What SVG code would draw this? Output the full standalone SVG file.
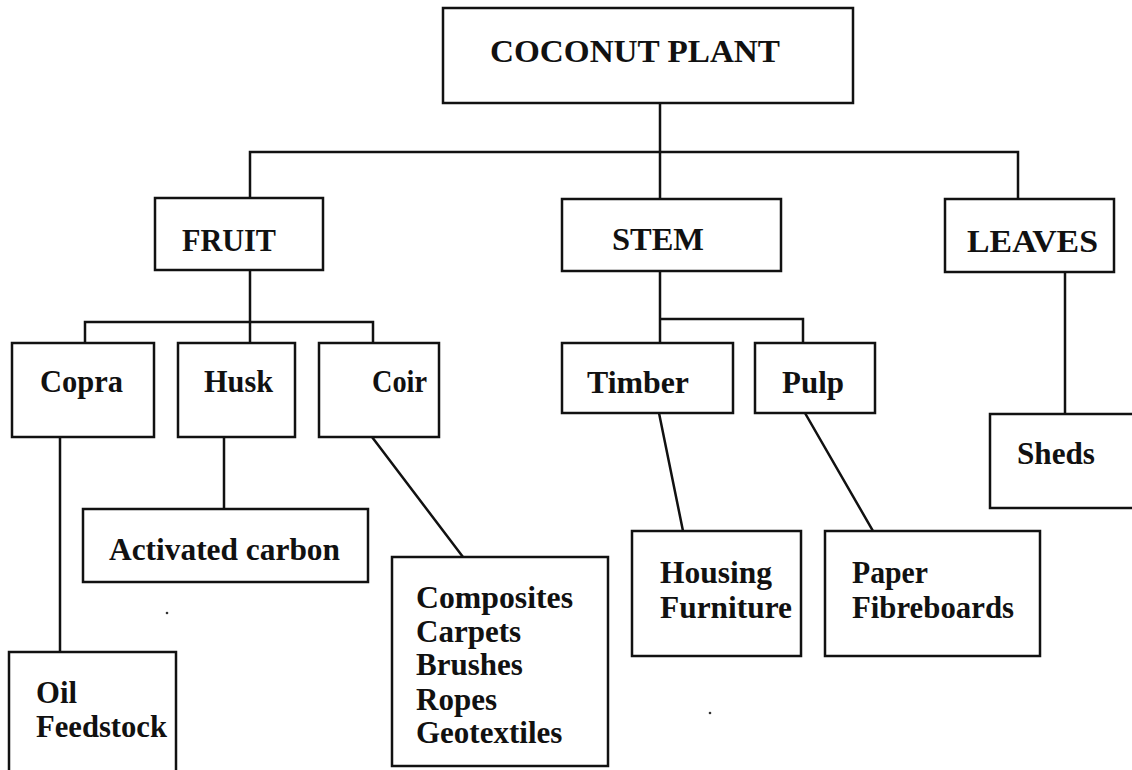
<svg xmlns="http://www.w3.org/2000/svg" width="1132" height="770" viewBox="0 0 1132 770">
<style>
  .box{fill:#fff;stroke:#111;stroke-width:2.5}
  .ln{fill:none;stroke:#111;stroke-width:2.5;stroke-linecap:square}
  text{font-family:'Liberation Serif','DejaVu Serif',serif;font-weight:bold;font-size:31px;fill:#111}
  .h{font-size:32px}
</style>
<rect width="1132" height="770" fill="#fff"/>
<g id="connectors">
  <path class="ln" d="M660 103V152M250 152H1018M250 152V198M660 152V199M1018 152V199"/>
  <path class="ln" d="M250 270V322M85 322H373M85 322V343M250 322V343M373 322V343"/>
  <path class="ln" d="M660 271V319H803V343M660 319V343"/>
  <path class="ln" d="M1065 272V414"/>
  <path class="ln" d="M60 437V652M224 437V509M372 437L463 557"/>
  <path class="ln" d="M659 413L683 531M805 413L873 531"/>
</g>
<g id="coconut"><rect class="box" x="443" y="8" width="410" height="95"/><text class="h" font-family="Liberation Serif, serif" x="490" y="62" textLength="290" lengthAdjust="spacingAndGlyphs">COCONUT  PLANT</text></g>
<g id="fruit"><rect class="box" x="155" y="198" width="168" height="72"/><text class="h" font-family="Liberation Serif, serif" x="182" y="251" textLength="94" lengthAdjust="spacingAndGlyphs">FRUIT</text></g>
<g id="stem"><rect class="box" x="562" y="199" width="219" height="72"/><text class="h" font-family="Liberation Serif, serif" x="612" y="250" textLength="92" lengthAdjust="spacingAndGlyphs">STEM</text></g>
<g id="leaves"><rect class="box" x="945" y="199" width="169" height="73"/><text class="h" font-family="Liberation Serif, serif" x="967" y="252" textLength="131" lengthAdjust="spacingAndGlyphs">LEAVES</text></g>
<g id="copra"><rect class="box" x="12" y="343" width="142" height="94"/><text font-family="Liberation Serif, serif" x="40" y="392" textLength="83" lengthAdjust="spacingAndGlyphs">Copra</text></g>
<g id="husk"><rect class="box" x="178" y="343" width="117" height="94"/><text font-family="Liberation Serif, serif" x="204" y="392" textLength="69" lengthAdjust="spacingAndGlyphs">Husk</text></g>
<g id="coir"><rect class="box" x="319" y="343" width="120" height="94"/><text font-family="Liberation Serif, serif" x="372" y="392" textLength="55" lengthAdjust="spacingAndGlyphs">Coir</text></g>
<g id="timber"><rect class="box" x="562" y="343" width="171" height="70"/><text font-family="Liberation Serif, serif" x="587" y="393" textLength="102" lengthAdjust="spacingAndGlyphs">Timber</text></g>
<g id="pulp"><rect class="box" x="755" y="343" width="120" height="70"/><text font-family="Liberation Serif, serif" x="782" y="393" textLength="62" lengthAdjust="spacingAndGlyphs">Pulp</text></g>
<g id="sheds"><rect class="box" x="990" y="414" width="160" height="94"/><text font-family="Liberation Serif, serif" x="1017" y="464" textLength="78" lengthAdjust="spacingAndGlyphs">Sheds</text></g>
<g id="activated"><rect class="box" x="83" y="509" width="285" height="73"/><text font-family="Liberation Serif, serif" x="109" y="560" textLength="231" lengthAdjust="spacingAndGlyphs">Activated carbon</text></g>
<g id="housing"><rect class="box" x="632" y="531" width="169" height="125"/><text font-family="Liberation Serif, serif" x="660" y="583" textLength="112" lengthAdjust="spacingAndGlyphs">Housing</text><text font-family="Liberation Serif, serif" x="660" y="618" textLength="132" lengthAdjust="spacingAndGlyphs">Furniture</text></g>
<g id="paper"><rect class="box" x="825" y="531" width="215" height="125"/><text font-family="Liberation Serif, serif" x="852" y="583" textLength="76" lengthAdjust="spacingAndGlyphs">Paper</text><text font-family="Liberation Serif, serif" x="852" y="618" textLength="162" lengthAdjust="spacingAndGlyphs">Fibreboards</text></g>
<g id="oil"><rect class="box" x="9" y="652" width="167" height="130"/><text font-family="Liberation Serif, serif" x="36" y="703" textLength="41" lengthAdjust="spacingAndGlyphs">Oil</text><text font-family="Liberation Serif, serif" x="36" y="737" textLength="131" lengthAdjust="spacingAndGlyphs">Feedstock</text></g>
<g id="coir-products"><rect class="box" x="392" y="557" width="216" height="209"/>
  <text font-family="Liberation Serif, serif" x="416" y="608" textLength="157" lengthAdjust="spacingAndGlyphs">Composites</text>
  <text font-family="Liberation Serif, serif" x="416" y="642">Carpets</text>
  <text font-family="Liberation Serif, serif" x="416" y="675">Brushes</text>
  <text font-family="Liberation Serif, serif" x="416" y="710">Ropes</text>
  <text font-family="Liberation Serif, serif" x="416" y="743">Geotextiles</text>
</g>
<circle cx="167" cy="613" r="1.3" fill="#333"/>
<circle cx="710" cy="713" r="1.3" fill="#333"/>
</svg>
